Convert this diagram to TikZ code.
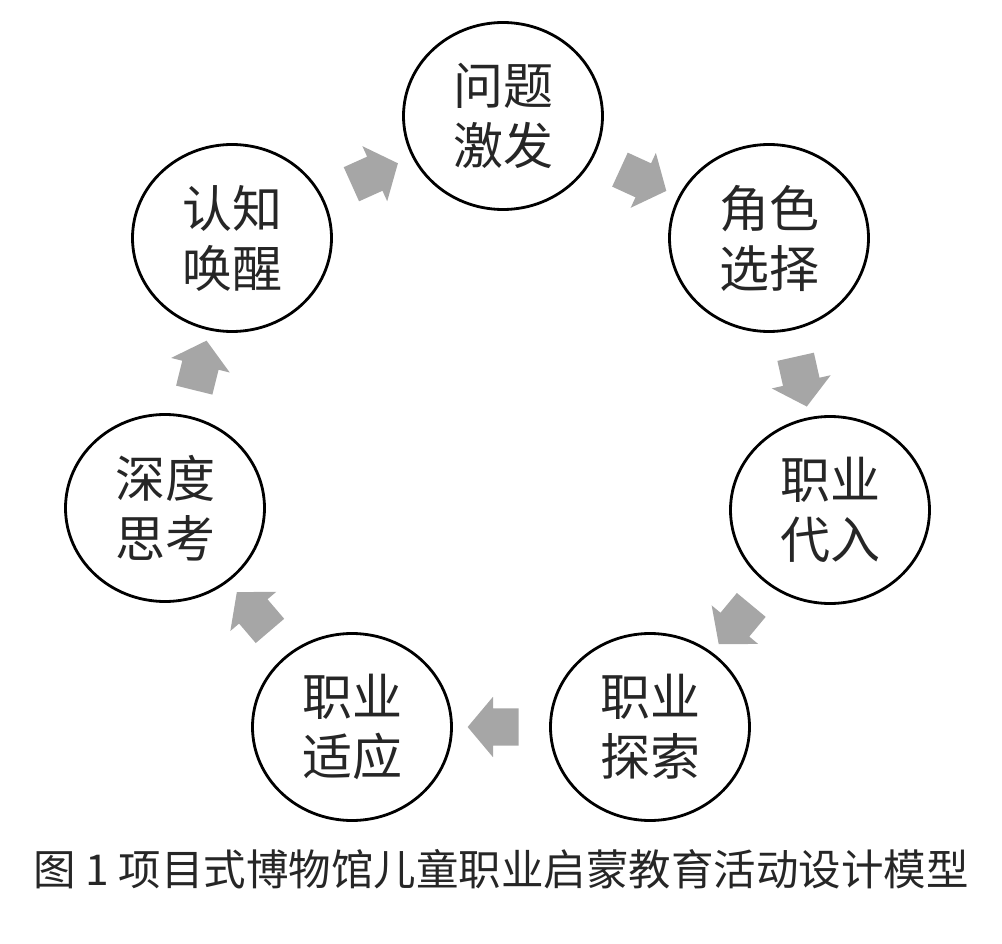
\documentclass[tikz,border=0pt]{standalone}
\usepackage{fontspec}
\newfontfamily\cjk{Noto Sans CJK SC}
\usetikzlibrary{shapes.geometric,shapes.arrows,calc}
\begin{document}
\begin{tikzpicture}[x=1pt,y=-1pt,
  stage/.style={ellipse, draw, line width=2.8pt, minimum width=199pt, minimum height=187pt,
    inner sep=0pt, align=center, font=\cjk\fontsize{50}{60}\selectfont, text=black!85},
  flow/.style={single arrow, fill=black!35, draw=none, minimum height=51pt,
    inner xsep=0pt, inner ysep=18.5pt,
    single arrow head extend=11.5pt, single arrow tip angle=100, single arrow head indent=0pt,
    sloped, allow upside down},
  captext/.style={font=\cjk\fontsize{42.5}{50}\selectfont, text=black!85, inner sep=0pt}
]
\useasboundingbox (0,0) rectangle (1002,944);
\node[stage] (A) at (503,116) {问题\\激发};
\node[stage] (B) at (769,238) {角色\\选择};
\node[stage] (C) at (830,510) {职业\\代入};
\node[stage] (D) at (650,727) {职业\\探索};
\node[stage] (E) at (352,727) {职业\\适应};
\node[stage] (F) at (165,508) {深度\\思考};
\node[stage] (G) at (232,238) {认知\\唤醒};
\foreach \s/\t in {A/B,B/C,C/D,D/E,E/F,F/G,G/A}
  \path (\s) -- node[flow, pos=0.5] {} (\t);
\node[captext] (cap) at (501,869) {图 1 项目式博物馆儿童职业启蒙教育活动设计模型};
\end{tikzpicture}
\end{document}
